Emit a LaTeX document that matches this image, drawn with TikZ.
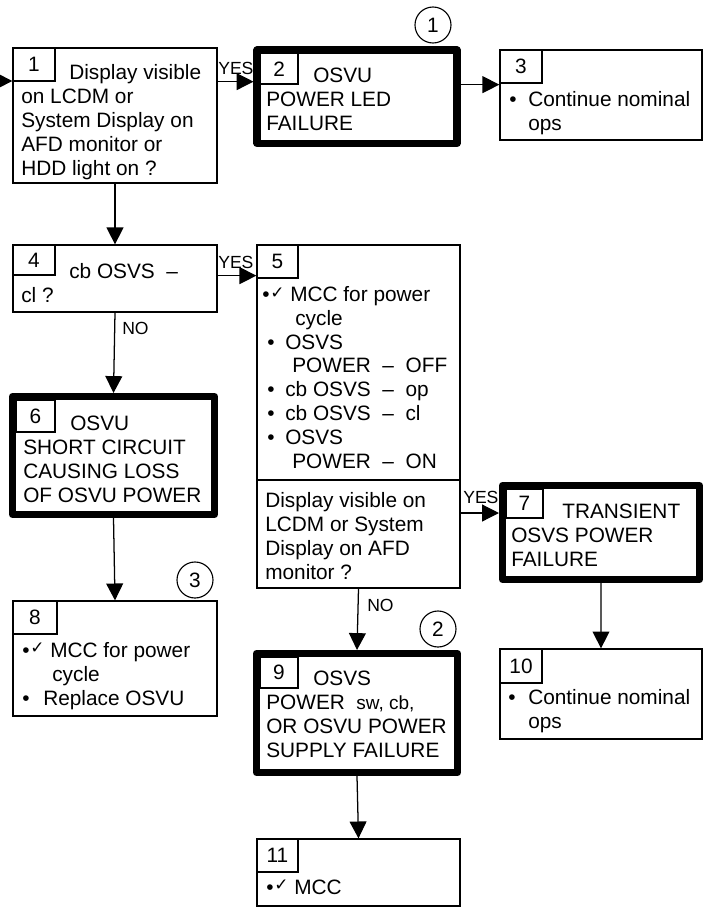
\documentclass[tikz,border=0pt]{standalone}
\usepackage{fontspec}
\setmainfont{Liberation Sans}
\newfontfamily\symfont{DejaVu Sans}
\usetikzlibrary{arrows.meta,fit}
\newcommand{\chk}{\raisebox{2.5pt}{\symfont\fontsize{12}{12}\selectfont ✓}}
\newcommand{\bchk}{\makebox[0.7cm][l]{•\hspace{0.5pt}\chk}}
\newcommand{\itm}{\hspace*{0.125cm}\makebox[0.45cm][l]{•}}
\tikzset{
  box/.style={draw, line width=0.9pt, inner sep=0pt},
  endbox/.style={draw, line width=5pt, line join=round, inner sep=0pt},
  numbox/.style={draw, line width=0.9pt, inner sep=0pt, label=center:#1},
  txt/.style={anchor=base west, inner sep=0pt, align=left},
  lbl/.style={anchor=base west, inner sep=0pt, font=\fontsize{12.5}{12.5}\selectfont},
  circ/.style={draw, circle, line width=0.8pt, minimum size=0.9cm, inner sep=0pt},
  arr/.style={-{Triangle[length=12pt,width=12pt]}, line width=0.9pt}
}
\begin{document}
\begin{tikzpicture}[x=0.025cm, y=-0.025cm, font=\fontsize{14.8}{16.9}\selectfont]
\useasboundingbox (0,0) rectangle (703,909);
\node[box, fit={(13,48)(217,183)}] (b1) {};
\node[endbox, fit={(257,50)(457,143.5)}] (b2) {};
\node[box, fit={(500,50)(702,140)}] (b3) {};
\node[box, fit={(13,245)(217,312)}] (b4) {};
\node[box, fit={(257,245)(460,588)}] (b5) {};
\node[endbox, fit={(12.5,396.5)(214.5,514.5)}] (b6) {};
\node[endbox, fit={(502.5,485.5)(699.5,579.5)}] (b7) {};
\node[box, fit={(13,601)(217,716)}] (b8) {};
\node[endbox, fit={(256.5,653.5)(457.5,772.5)}] (b9) {};
\node[box, fit={(500,649)(702,739)}] (b10) {};
\node[box, fit={(257,839)(460,906)}] (b11) {};
\coordinate (dv) at (300,480);
\draw[line width=0.9pt] (dv -| b5.west) -- (dv -| b5.east);

\node[numbox=1, fit={(13,48)(55,81)}] (n1) {};
\node[numbox=2, fit={(260.5,53.5)(298,84)}] (n2) {};
\node[numbox=3, fit={(500,50)(542,83)}] (n3) {};
\node[numbox=4, fit={(13,245)(55,275)}] (n4) {};
\node[numbox=5, fit={(257,245)(298,278)}] (n5) {};
\node[numbox=6, fit={(16,400)(55,432)}] (n6) {};
\node[numbox=7, fit={(506,489)(543,518)}] (n7) {};
\node[numbox=8, fit={(13,601)(57,634)}] (n8) {};
\node[numbox=9, fit={(260,657)(298,688)}] (n9) {};
\node[numbox=10, fit={(500,649)(542,683)}] (n10) {};
\node[numbox=11, fit={(257,839)(298,872)}] (n11) {};

\node[txt] (t1) at (21,175) {\hspace*{1.2cm}Display visible\\on LCDM or\\System Display on\\AFD monitor or\\HDD light on ?};
\node[txt] (t2) at (266,130) {\hspace*{1.175cm}OSVU\\POWER LED\\FAILURE};
\node[txt] (t3) at (509,130) {\makebox[0.475cm][l]{•}Continue nominal\\\hspace*{0.475cm}ops};
\node[txt] (t4) at (21,302) {\hspace*{1.2cm}cb OSVS~~–\\cl ?};
\node[txt] (t5) at (262,468) {\bchk MCC for power\\\hspace*{0.825cm}cycle\\\itm OSVS\\\hspace*{0.75cm}POWER~~–~~OFF\\\itm cb OSVS~~–~~op\\\itm cb OSVS~~–~~cl\\\itm OSVS\\\hspace*{0.75cm}POWER~~–~~ON};
\node[txt] (t5b) at (265,579) {Display visible on\\LCDM or System\\Display on AFD\\monitor ?};
\node[txt] (t6) at (23,502) {\hspace*{1.175cm}OSVU\\SHORT CIRCUIT\\CAUSING LOSS\\OF OSVU POWER};
\node[txt] (t7) at (511,566) {\hspace*{1.275cm}TRANSIENT\\OSVS POWER\\FAILURE};
\node[txt] (t8) at (22,705) {\bchk MCC for power\\\hspace*{0.75cm}cycle\\\makebox[0.525cm][l]{•}Replace OSVU};
\node[txt] (t9) at (266,757) {\hspace*{1.175cm}OSVS\\POWER~~{\fontsize{13.5}{13.5}\selectfont sw, cb,}\\OR OSVU POWER\\SUPPLY FAILURE};
\node[txt] (t10) at (508,728) {\makebox[0.5cm][l]{•}Continue nominal\\\hspace*{0.5cm}ops};
\node[txt] (t11) at (266,894) {\bchk MCC};

\node[circ] (c1) at (433,25) {1};
\node[circ] (c2) at (438,629) {2};
\node[circ] (c3) at (195,580) {3};

\coordinate (in1) at (0,81);
\coordinate (y7) at (480,513);
\draw[arr] (in1) -- (in1 -| b1.west);
\draw[arr] (n1.south -| b1.east) -- (n1.south -| b2.west);
\draw[arr] (n2.south -| b2.east) -- (n2.south -| b3.west);
\draw[arr] (b1.south) -- (b4.north);
\draw[arr] (n4.south -| b4.east) -- (n4.south -| b5.west);
\draw[arr] (b4.south) -- (b6.north);
\draw[arr] (b6.south) -- (b8.north);
\draw[arr] (y7 -| b5.east) -- (y7 -| b7.west);
\draw[arr] (b5.south) -- (b9.north);
\draw[arr] (b7.south) -- (b10.north);
\draw[arr] (b9.south) -- (b11.north);
\node[lbl] (yes1) at (218,74) {YES};
\node[lbl] (yes4) at (218,268) {YES};
\node[lbl] (yes5) at (463,503) {YES};
\node[lbl] (no4) at (122,334) {NO};
\node[lbl] (no5) at (367,611) {NO};
\end{tikzpicture}
\end{document}
